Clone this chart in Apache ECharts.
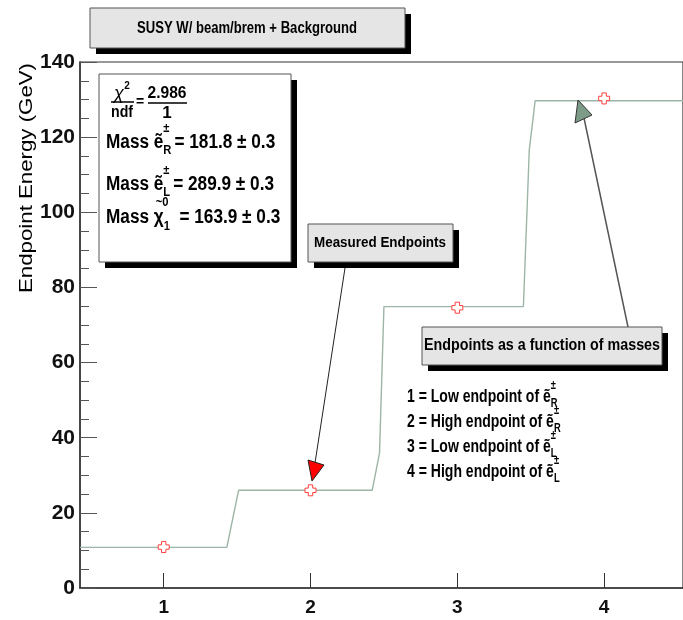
<!DOCTYPE html>
<html>
<head>
<meta charset="utf-8">
<script src="https://cdn.jsdelivr.net/npm/echarts@6/dist/echarts.min.js"></script>
<style>
html, body { margin: 0; padding: 0; background: #fff; }
#chart { width: 683px; height: 620px; }
</style>
</head>
<body>
<div id="chart"></div>
<script>
// measured endpoints, x = endpoint number
const endpointIdx = [1, 2, 3, 4];
const endpointEnergy = [10.9, 26.0, 74.6, 130.3];
// endpoints as a function of the fitted masses (step curve)
const curveX = [0.43, 1.43, 1.51, 2.42, 2.47, 2.50, 3.45, 3.49, 3.53, 4.537];
const curveY = [10.8, 10.8, 26.0, 26.0, 35.9, 74.9, 74.9, 116.6, 129.7, 129.7];
const xTicks = [1, 2, 3, 4];
const yTicks = [0, 20, 40, 60, 80, 100, 120, 140];

const FONT = '"Liberation Sans", Arial, sans-serif';
const ctx = document.createElement('canvas').getContext('2d');
function measure (t, size, weight) {
  ctx.font = (weight || 'bold') + ' ' + size + 'px "Liberation Sans"';
  return ctx.measureText(t).width;
}

function txt (x, y, t, size, opt) {
  opt = opt || {};
  return {
    type: 'text', x: x, y: y, z: 20,
    scaleX: opt.sx || 1,
    rotation: opt.rot || 0,
    style: {
      text: t, fill: '#000',
      font: (opt.style || '') + ' ' + (opt.weight || 'bold') + ' ' + size + 'px ' + FONT,
      textAlign: opt.align || 'left', textVerticalAlign: 'middle'
    }
  };
}

// lay out a line of text pieces, sup/sub stacked
function row (x, y, parts, sx) {
  const out = [];
  parts.forEach(function (p) {
    if (p.t !== undefined) {
      out.push(txt(x, y, p.t, p.s, { sx: sx }));
      x += measure(p.t, p.s) * sx;
    } else {
      let w = 0;
      if (p.sup) { out.push(txt(x + (p.supDx || 0), y + p.supDy, p.sup, p.s, { sx: sx })); w = Math.max(w, measure(p.sup, p.s) * sx); }
      if (p.sub) { out.push(txt(x, y + p.subDy, p.sub, p.s, { sx: sx })); w = Math.max(w, measure(p.sub, p.s) * sx); }
      x += w + (p.gap || 1);
    }
  });
  return out;
}

// text fitted to a given width
function fitted (x, y, t, size, width, opt) {
  opt = opt || {};
  opt.sx = width / measure(t, size, opt.weight);
  return txt(x, y, t, size, opt);
}

function box (x, y, w, h, fill, sh) {
  return [
    { type: 'rect', z: 10, shape: { x: x + sh, y: y + sh, width: w, height: h }, style: { fill: '#000' } },
    { type: 'rect', z: 11, shape: { x: x, y: y, width: w, height: h }, style: { fill: fill, stroke: '#555', lineWidth: 1 } }
  ];
}

const graphics = [];
// title
graphics.push.apply(graphics, box(90, 8, 315, 40, '#e5e5e5', 6));
graphics.push(fitted(247, 29, 'SUSY W/ beam/brem + Background', 16, 220, { align: 'center' }));

// fit statistics box
graphics.push.apply(graphics, box(99, 74, 192, 188, '#fff', 6));
graphics.push(txt(119, 94, 'χ', 18, { align: 'center', weight: 'normal', style: 'italic' }));
graphics.push(txt(127, 86, '2', 10, { align: 'center' }));
graphics.push({ type: 'line', z: 20, shape: { x1: 111, y1: 102, x2: 134, y2: 102 }, style: { stroke: '#000', lineWidth: 1.5 } });
graphics.push(fitted(122, 113, 'ndf', 16, 22, { align: 'center' }));
graphics.push(txt(140, 102, '=', 14, { align: 'center' }));
graphics.push(fitted(167, 93, '2.986', 17, 39, { align: 'center' }));
graphics.push({ type: 'line', z: 20, shape: { x1: 148, y1: 103, x2: 187, y2: 103 }, style: { stroke: '#000', lineWidth: 1.5 } });
graphics.push(txt(167, 113, '1', 17, { align: 'center' }));

const sxStat = 0.86;
graphics.push.apply(graphics, row(106, 142, [
  { t: 'Mass ', s: 20 }, { t: 'ẽ', s: 20 },
  { sup: '±', sub: 'R', s: 13, supDy: -14, subDy: 8, gap: 3 },
  { t: '= 181.8 ± 0.3', s: 20 }
], sxStat));
graphics.push.apply(graphics, row(106, 184, [
  { t: 'Mass ', s: 20 }, { t: 'ẽ', s: 20 },
  { sup: '±', sub: 'L', s: 13, supDy: -14, subDy: 8, gap: 3 },
  { t: '= 289.9 ± 0.3', s: 20 }
], sxStat));
graphics.push.apply(graphics, row(106, 217, [
  { t: 'Mass ', s: 20 }, { t: 'χ', s: 20 },
  { sup: '~0', sub: '1', s: 13, supDx: -8, supDy: -15, subDy: 9, gap: 3 },
  { t: '= 163.9 ± 0.3', s: 20 }
], sxStat));

// measured endpoints label + arrow
graphics.push.apply(graphics, box(308, 224, 145, 38, '#e5e5e5', 6));
graphics.push(fitted(380, 243, 'Measured Endpoints', 15, 132, { align: 'center' }));
graphics.push({ type: 'line', z: 15, shape: { x1: 345, y1: 268, x2: 315, y2: 463 }, style: { stroke: '#222', lineWidth: 1 } });
graphics.push({ type: 'polygon', z: 15, shape: { points: [[308, 460], [324, 465], [312, 481]] }, style: { fill: '#f00', stroke: '#222', lineWidth: 1 } });

// curve label + arrow
graphics.push({ type: 'line', z: 9, shape: { x1: 628, y1: 327, x2: 584, y2: 118 }, style: { stroke: '#555', lineWidth: 1.5 } });
graphics.push({ type: 'polygon', z: 15, shape: { points: [[578, 100], [575, 123], [592, 115]] }, style: { fill: '#7d9c88', stroke: '#333', lineWidth: 1 } });
graphics.push.apply(graphics, box(422, 327, 240, 38, '#e5e5e5', 6));
graphics.push(fitted(542, 346, 'Endpoints as a function of masses', 16, 236, { align: 'center' }));

// legend of endpoint numbers
const legendRows = [
  ['1 = Low endpoint of ', 'R'],
  ['2 = High endpoint of ', 'R'],
  ['3 = Low endpoint of ', 'L'],
  ['4 = High endpoint of ', 'L']
];
const sxLeg = 136 / measure(legendRows[0][0], 18);
legendRows.forEach(function (r, i) {
  graphics.push.apply(graphics, row(407, 397 + i * 25, [
    { t: r[0], s: 18 }, { t: 'ẽ', s: 18 },
    { sup: '±', sub: r[1], s: 12, supDy: -11, subDy: 7 }
  ], sxLeg));
});

// y axis title
graphics.push(fitted(27, 178, 'Endpoint Energy (GeV)', 18, 230, { align: 'center', weight: 'normal', rot: Math.PI / 2 }));

const plusPath = 'path://M3,0 L7,0 L7,3 L10,3 L10,7 L7,7 L7,10 L3,10 L3,7 L0,7 L0,3 L3,3 Z';

const chart = echarts.init(document.getElementById('chart'));
chart.setOption({
  animation: false,
  backgroundColor: '#fff',
  grid: { left: 80, right: -1, top: 62, bottom: 32, show: true, borderColor: '#333', borderWidth: 1.2 },
  xAxis: {
    type: 'value', min: 0.43, max: 4.537,
    axisLine: { lineStyle: { color: '#333', width: 1.5 } },
    axisTick: { inside: true, length: 15, customValues: xTicks, lineStyle: { color: '#333' } },
    axisLabel: { customValues: xTicks, margin: 10, color: '#111', fontSize: 19, fontWeight: 'bold', fontFamily: FONT },
    splitLine: { show: false }
  },
  yAxis: {
    type: 'value', min: yTicks[0], max: yTicks[yTicks.length - 1], interval: 20,
    axisLine: { show: true, lineStyle: { color: '#333', width: 1.5 } },
    axisTick: { inside: true, length: 17, lineStyle: { color: '#555' } },
    minorTick: { show: true, splitNumber: 4, length: 9, lineStyle: { color: '#555' } },
    axisLabel: { margin: 5, color: '#111', fontSize: 21, fontWeight: 'bold', fontFamily: FONT },
    splitLine: { show: false }
  },
  series: [
    {
      type: 'line', name: 'curve', symbol: 'none', z: 2,
      data: curveX.map(function (x, i) { return [x, curveY[i]]; }),
      lineStyle: { color: '#9cb5a6', width: 1.4 }
    },
    {
      type: 'scatter', name: 'measured', z: 3,
      symbol: plusPath, symbolSize: 11,
      data: endpointIdx.map(function (x, i) { return [x, endpointEnergy[i]]; }),
      itemStyle: { color: '#fff', borderColor: '#ff4040', borderWidth: 1, opacity: 1 }
    }
  ],
  graphic: graphics
});
</script>
</body>
</html>
